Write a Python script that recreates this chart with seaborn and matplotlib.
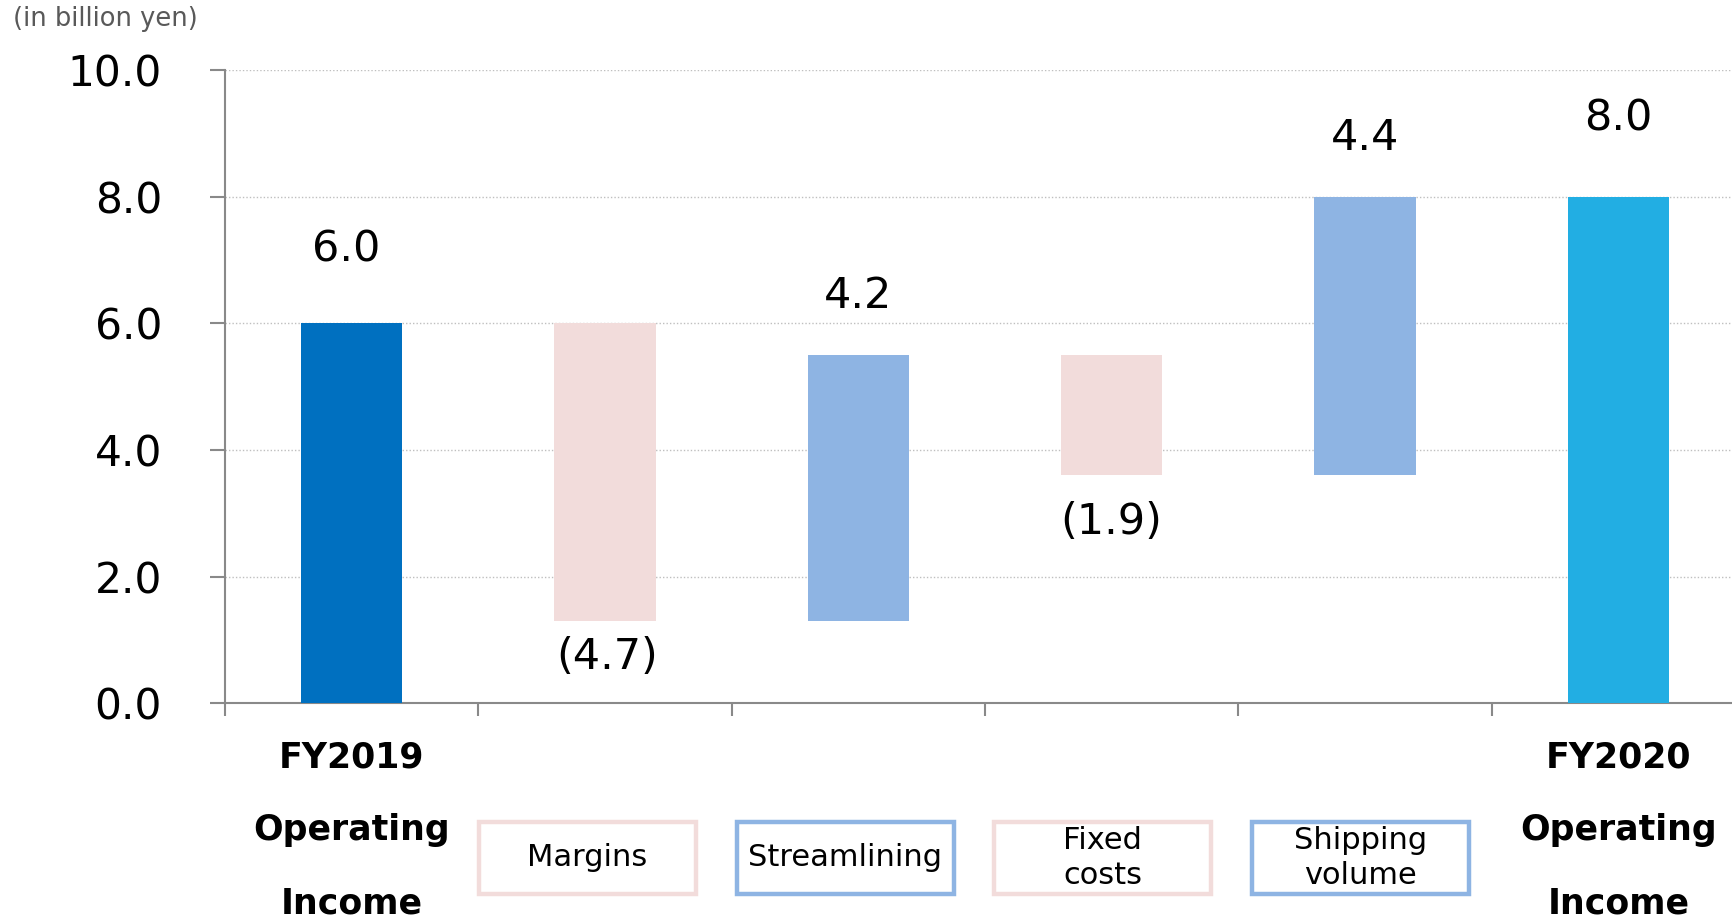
import numpy as np
import pandas as pd
import matplotlib
matplotlib.use("Agg")
import matplotlib.pyplot as plt
from matplotlib.patches import Rectangle
from matplotlib.transforms import blended_transform_factory
import seaborn as sns

# ---------------- data ----------------
categories = ["FY2019 Operating Income", "Margins", "Streamlining",
              "Fixed costs", "Shipping volume", "FY2020 Operating Income"]
values = [6.0, -4.7, 4.2, -1.9, 4.4, 8.0]
is_total = [True, False, False, False, False, True]
bar_colors = ["#0070C0", "#F2DCDB", "#8EB4E3", "#F2DCDB", "#8EB4E3", "#22AEE3"]
total_labels = {0: ["FY2019", "Operating", "Income"],
                5: ["FY2020", "Operating", "Income"]}
box_labels = ["Margins", "Streamlining", "Fixed\ncosts", "Shipping\nvolume"]
box_colors = ["#F2DCDB", "#8EB4E3", "#F2DCDB", "#8EB4E3"]
y_ticks = [0.0, 2.0, 4.0, 6.0, 8.0, 10.0]
unit_label = "(in billion yen)"

# waterfall geometry derived from values
lows, lengths = [], []
running = 0.0
for v, tot in zip(values, is_total):
    if tot:
        lows.append(0.0)
        lengths.append(v)
        running = v
    else:
        new = running + v
        lows.append(min(running, new))
        lengths.append(abs(v))
        running = new
highs = [l + h for l, h in zip(lows, lengths)]
df = pd.DataFrame({"category": categories, "length": lengths, "low": lows})

# ---------------- figure ----------------
W, H = 1733, 919
sns.set_theme(style="white")
plt.rcParams["font.family"] = ["DejaVu Sans"]
fig = plt.figure(figsize=(W / 100, H / 100), dpi=100)
ax = fig.add_axes([225 / W, (H - 703.3) / H, 1520 / W, 633.3 / H])

sns.barplot(data=df, x="category", y="length", bottom=df["low"].values,
            color=bar_colors[0], width=0.4, ax=ax, zorder=3)
for patch, c in zip(ax.patches, bar_colors):
    patch.set_facecolor(c)
    patch.set_edgecolor(c)
    patch.set_linewidth(0)

ax.set_xlim(-0.5, 5.5)
ax.set_ylim(0, 10)
ax.set_xlabel("")
ax.set_ylabel("")

# axes styling
axis_grey = "#898989"
for s in ["top", "right"]:
    ax.spines[s].set_visible(False)
for s in ["left", "bottom"]:
    ax.spines[s].set_color(axis_grey)
    ax.spines[s].set_linewidth(1.5)
ax.set_yticks(y_ticks)
ax.set_yticklabels([f"{t:.1f}" for t in y_ticks])
ax.set_xticks(np.arange(-0.5, 5.0, 1.0))
ax.set_xticklabels([])
ax.tick_params(axis="y", length=10.8, width=1.5, color=axis_grey,
               labelsize=30.5, pad=34.5, labelcolor="black", left=True)
ax.tick_params(axis="x", length=9, width=1.5, color=axis_grey, bottom=True)
ax.yaxis.grid(True, linestyle=(0, (1, 1.5)), color="#BFBFBF", linewidth=1.0)
ax.xaxis.grid(False)
ax.set_axisbelow(True)

# value labels
label_offsets = [1.17, 0.57, 0.93, 0.73, 0.92, 1.24]
label_dx = [-0.02, 0.01, 0.0, 0.0, 0.0, 0.0]
for i, v in enumerate(values):
    txt = f"{v:.1f}" if v >= 0 else f"({abs(v):.1f})"
    if v >= 0:
        y = highs[i] + label_offsets[i]
    else:
        y = lows[i] - label_offsets[i]
    ax.text(i + label_dx[i], y, txt, ha="center", va="center", fontsize=31,
            color="black")

# category labels: totals in bold
trans = blended_transform_factory(ax.transData, fig.transFigure)
line_y_px = [757, 830, 903]
for i, lines in total_labels.items():
    for line, ypx in zip(lines, line_y_px):
        ax.text(i, 1 - ypx / H, line, transform=trans, ha="center", va="center",
                fontsize=25, fontweight="bold", color="black", clip_on=False)

# boxed labels for the changes
box_left0, box_step, box_w = 479, 257.6, 217
box_top, box_h = 822, 72
for k, (lab, col) in enumerate(zip(box_labels, box_colors)):
    x0 = box_left0 + k * box_step
    rect = Rectangle((x0 / W, 1 - (box_top + box_h) / H), box_w / W, box_h / H,
                     transform=fig.transFigure, facecolor="white", edgecolor=col,
                     linewidth=3.2, joinstyle="miter", zorder=2)
    fig.patches.append(rect)
    fig.text((x0 + box_w / 2) / W, 1 - (box_top + box_h / 2) / H, lab,
             ha="center", va="center", fontsize=22, color="black",
             linespacing=1.3, zorder=3)

# unit label
fig.text(13 / W, 1 - 19 / H, unit_label, ha="left", va="center",
         fontsize=18.5, color="#595959")

fig.savefig("out.png", dpi=100)
